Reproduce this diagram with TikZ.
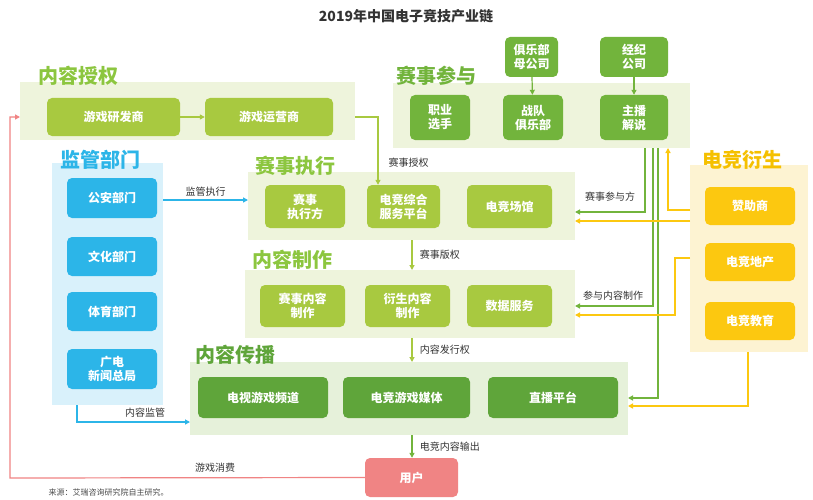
\documentclass[tikz,border=0pt]{standalone}
\usepackage{fontspec}
\setmainfont{Noto Sans CJK SC}
\usetikzlibrary{arrows.meta}
\definecolor{lgbg}{HTML}{EEF4DC}
\definecolor{yg}{HTML}{A8C940}
\definecolor{mg}{HTML}{72B43C}
\definecolor{dg}{HTML}{5FA53A}
\definecolor{dgbg}{HTML}{E6F1DA}
\definecolor{bbg}{HTML}{D9F1FB}
\definecolor{bb}{HTML}{2CB5E8}
\definecolor{ybg}{HTML}{FDF3D2}
\definecolor{yb}{HTML}{FCC810}
\definecolor{ylab}{HTML}{F5C000}
\definecolor{pk}{HTML}{F08484}
\definecolor{lab}{HTML}{8CC63F}
\newcommand{\bx}[7]{\node[#6,minimum width=#4pt-#2pt,minimum height=#5pt-#3pt] (#1) at ({(#2+#4)/2},{(#3+#5)/2}) {#7};}
\newcommand{\grp}[6]{\fill[#6] (#2,#3) rectangle (#4,#5); \coordinate (#1) at (#2,#3);}
\begin{document}
\begin{tikzpicture}[x=1pt,y=-1pt,
 box/.style={rounded corners=5pt,text=white,font=\bfseries\fontsize{12}{14}\selectfont,align=center,inner sep=0pt},
 ygb/.style={box,fill=yg},mgb/.style={box,fill=mg},dgb/.style={box,fill=dg},bbx/.style={box,fill=bb},ybx/.style={box,fill=yb},
 glab/.style={font=\bfseries\fontsize{20}{22}\selectfont,anchor=west,inner sep=0pt},
 small/.style={font=\fontsize{10}{12}\selectfont,text=black!80},
 arr/.style={-{Triangle[length=5pt,width=5pt]},line width=1.2pt},
 ga/.style={arr,draw=mg},ya/.style={arr,draw=yb},ba/.style={arr,draw=bb},pa/.style={arr,draw=pk}]
\useasboundingbox (0,0) rectangle (813,500);
\fill[white] (0,0) rectangle (813,500);
\node[font=\bfseries\fontsize{14}{16}\selectfont,text=black!80] (title) at (406,16) {2019年中国电子竞技产业链};
% groups
\grp{g1}{20}{82}{355}{140}{lgbg}
\grp{g2}{393}{83}{690}{148}{lgbg}
\grp{g3}{52}{163}{163}{405}{bbg}
\grp{g4}{248}{172}{575}{240}{lgbg}
\grp{g5}{245}{270}{575}{338}{lgbg}
\grp{g6}{190}{362}{628}{435}{dgbg}
\grp{g7}{690}{165}{808}{352}{ybg}
\node[glab,text=lab] (l1) at (38,76) {内容授权};
\node[glab,text=mg] (l2) at (396,76) {赛事参与};
\node[glab,text=bb] (l3) at (60,160) {监管部门};
\node[glab,text=lab] (l4) at (255,166) {赛事执行};
\node[glab,text=lab] (l5) at (252,260) {内容制作};
\node[glab,text=dg] (l6) at (195,355) {内容传播};
\node[glab,text=ylab] (l7) at (702,160) {电竞衍生};
% boxes
\bx{a1}{47}{98}{180}{136}{ygb}{游戏研发商}
\bx{a2}{205}{98}{333}{136}{ygb}{游戏运营商}
\bx{b1}{410}{95}{470}{140}{mgb}{职业\\选手}
\bx{b2}{503}{95}{563}{140}{mgb}{战队\\俱乐部}
\bx{b3}{600}{95}{668}{140}{mgb}{主播\\解说}
\bx{b4}{505}{37}{558}{77}{mgb}{俱乐部\\母公司}
\bx{b5}{600}{37}{668}{77}{mgb}{经纪\\公司}
\bx{c1}{67}{178}{157}{218}{bbx}{公安部门}
\bx{c2}{67}{237}{157}{276}{bbx}{文化部门}
\bx{c3}{67}{292}{157}{331}{bbx}{体育部门}
\bx{c4}{67}{349}{157}{389}{bbx}{广电\\新闻总局}
\bx{d1}{265}{185}{345}{228}{ygb}{赛事\\执行方}
\bx{d2}{367}{185}{440}{228}{ygb}{电竞综合\\服务平台}
\bx{d3}{467}{185}{552}{228}{ygb}{电竞场馆}
\bx{e1}{260}{285}{345}{327}{ygb}{赛事内容\\制作}
\bx{e2}{365}{285}{450}{327}{ygb}{衍生内容\\制作}
\bx{e3}{467}{285}{552}{327}{ygb}{数据服务}
\bx{f1}{198}{377}{328}{418}{dgb}{电视游戏频道}
\bx{f2}{343}{377}{470}{418}{dgb}{电竞游戏媒体}
\bx{f3}{488}{377}{618}{418}{dgb}{直播平台}
\bx{h1}{705}{187}{795}{225}{ybx}{赞助商}
\bx{h2}{705}{243}{795}{281}{ybx}{电竞地产}
\bx{h3}{705}{302}{795}{340}{ybx}{电竞教育}
\bx{u}{365}{458}{458}{497}{box,fill=pk}{用户}
\node[font=\fontsize{8}{10}\selectfont,text=black!70,anchor=west] (src) at (45,492) {来源：艾瑞咨询研究院自主研究。};
% connectors
\draw[ga,draw=yg] (a1) -- (a2);
\draw[ga] (b4) -- (b2);
\draw[ga] (b5) -- (b3);
\coordinate (k1) at (355,117);
\draw[ga,draw=yg] (k1) -| (d2.north -| 378,0);
\node[small,anchor=west] (t1) at (385,163) {赛事授权};
\coordinate (k2a) at (163,200); \coordinate (k2b) at (248,200);
\draw[ba] (k2a) -- (k2b) node[small,midway,above] {监管执行};
\coordinate (k3a) at (77,405); \coordinate (k3b) at (190,422);
\draw[ba] (k3a) |- (k3b);
\node[small] (t3) at (145,413) {内容监管};
\coordinate (k4a) at (412,240); \coordinate (k4b) at (412,270);
\draw[ga,draw=yg] (k4a) -- (k4b) node[small,midway,right=4pt] {赛事版权};
\coordinate (k5a) at (412,338); \coordinate (k5b) at (412,362);
\draw[ga,draw=yg] (k5a) -- (k5b) node[small,midway,right=4pt] {内容发行权};
\coordinate (k6a) at (412,435);
\draw[ga] (k6a) -- (u.north -| k6a) node[small,midway,right=4pt] {电竞内容输出};
\coordinate (k7) at (20,117);
\draw[pa] (u.west) -- (10,478) |- (k7);
\node[small] (t7) at (215,468) {游戏消费};
% participation lines
\coordinate (m1) at (575,212); \coordinate (m2) at (575,306); \coordinate (m3) at (628,398);
\draw[ga] (645,148) |- (m1);
\draw[ga] (653,148) |- (m2);
\draw[ga] (658,148) |- (m3);
\node[small] (t8) at (610,197) {赛事参与方};
\node[small] (t9) at (613,296) {参与内容制作};
\coordinate (y1) at (668,148);
\coordinate (y4) at (628,406);
\draw[ya] (690,210) -| (y1);
\draw[ya] (690,221) -- (575,221);
\draw[ya] (690,258) -| (675,315) -- (575,315);
\draw[ya] (748,352) |- (y4);
\end{tikzpicture}
\end{document}
